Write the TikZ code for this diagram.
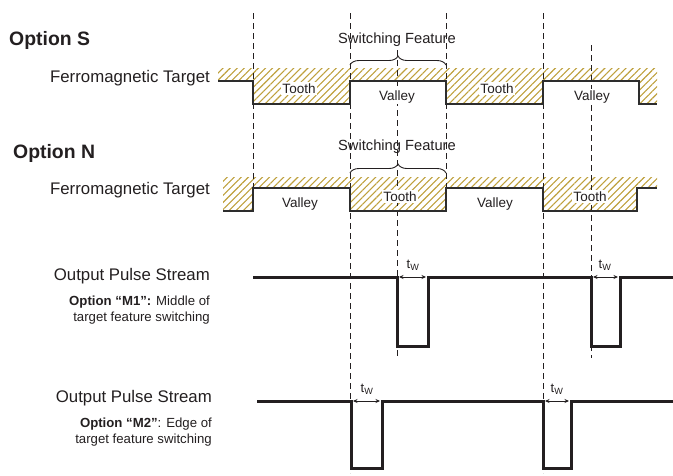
\documentclass[tikz,border=0pt]{standalone}
\usepackage{fontspec}
\setmainfont{Liberation Sans}
\usetikzlibrary{patterns.meta,decorations.pathreplacing,arrows.meta}
\definecolor{txt}{RGB}{35,31,32}
\definecolor{hatchc}{RGB}{190,160,60}
\definecolor{wavec}{RGB}{45,45,45}
\begin{document}
\begin{tikzpicture}[x=1pt,y=-1pt,
  every node/.style={text=txt,inner sep=0pt},
  hatchfill/.style={pattern={Lines[angle=45,distance=5pt,line width=1.1pt]},pattern color=hatchc},
  profile/.style={draw=wavec,line width=1.8pt,line join=miter},
  pulse/.style={draw=txt,line width=3pt,line join=miter},
  guide/.style={draw=txt,line width=0.9pt,dash pattern=on 6pt off 4pt},
  bigbold/.style={font=\fontsize{19.4}{22}\selectfont\bfseries},
  rowlabel/.style={font=\fontsize{16.8}{20}\selectfont},
  featlabel/.style={font=\fontsize{13.5}{16}\selectfont,fill=white,inner sep=1.5pt},
  swlabel/.style={font=\fontsize{14.7}{17}\selectfont},
  note/.style={font=\fontsize{13.2}{15.5}\selectfont},
  twlabel/.style={font=\fontsize{13}{15}\selectfont},
  twarrow/.style={draw=txt,line width=0.8pt,{Stealth[length=4.5pt,width=4pt]}-{Stealth[length=4.5pt,width=4pt]}},
  brace/.style={draw=txt,line width=0.9pt,decorate,decoration={brace,amplitude=9pt}}]
\useasboundingbox (0,0) rectangle (673,475);

% ---------- hatched targets ----------
\fill[hatchfill] (218,68) -- (657,68) -- (657,104) -- (639,104) -- (639,81) -- (543,81) -- (543,104)
  -- (446,104) -- (446,81) -- (350,81) -- (350,104) -- (253,104) -- (253,81) -- (218,81) -- cycle;
\fill[hatchfill] (223,177) -- (657,177) -- (657,188) -- (637,188) -- (637,211) -- (543,211) -- (543,188)
  -- (446,188) -- (446,211) -- (350,211) -- (350,188) -- (253,188) -- (253,211) -- (223,211) -- cycle;

% ---------- dashed guides ----------
\coordinate (g1t) at (253,13);  \coordinate (g1b) at (253,211);
\coordinate (g2t) at (350,13);  \coordinate (g2b) at (350,473);
\coordinate (g3t) at (446,13);  \coordinate (g3b) at (446,211);
\coordinate (g4t) at (543,13);  \coordinate (g4b) at (543,473);
\coordinate (g5t) at (397,50);  \coordinate (g5b) at (397,358);
\coordinate (g6t) at (591,45);  \coordinate (g6b) at (591,358);
\draw[guide] (g1t) -- (g1b);
\draw[guide] (g2t) -- (g2b);
\draw[guide] (g3t) -- (g3b);
\draw[guide] (g4t) -- (g4b);
\draw[guide] (g5t) -- (g5b);
\draw[guide] (g6t) -- (g6b);

% ---------- target profiles ----------
\draw[profile] (218,81) -- (253,81) -- (253,104) -- (350,104) -- (350,81) -- (446,81) -- (446,104)
  -- (543,104) -- (543,81) -- (639,81) -- (639,104) -- (657,104);
\draw[profile] (223,211) -- (253,211) -- (253,188) -- (350,188) -- (350,211) -- (446,211) -- (446,188)
  -- (543,188) -- (543,211) -- (637,211) -- (637,188) -- (657,188);

% ---------- output pulses ----------
\coordinate (p1a) at (397,277); \coordinate (p1b) at (428,277);
\coordinate (p1c) at (591,277); \coordinate (p1d) at (620,277);
\draw[pulse] (253,277) -- (p1a) -- (397,346) -- (428,346) -- (p1b) -- (p1c) -- (591,346) -- (620,346) -- (p1d) -- (673,277);
\coordinate (p2a) at (351,401); \coordinate (p2b) at (382,401);
\coordinate (p2c) at (543,401); \coordinate (p2d) at (571,401);
\draw[pulse] (257,401) -- (p2a) -- (351,468) -- (382,468) -- (p2b) -- (p2c) -- (543,468) -- (571,468) -- (p2d) -- (673,401);

\draw[twarrow] ([xshift=2pt]p1a) -- ([xshift=-2pt]p1b);
\draw[twarrow] ([xshift=2pt]p1c) -- ([xshift=-2pt]p1d);
\draw[twarrow] ([xshift=2pt]p2a) -- ([xshift=-2pt]p2b);
\draw[twarrow] ([xshift=2pt]p2c) -- ([xshift=-2pt]p2d);
\node[twlabel,anchor=base] (tw1) at (413,268) {t\textsubscript{W}};
\node[twlabel,anchor=base] (tw2) at (605,268) {t\textsubscript{W}};
\node[twlabel,anchor=base] (tw3) at (367,392) {t\textsubscript{W}};
\node[twlabel,anchor=base] (tw4) at (557,392) {t\textsubscript{W}};

% ---------- braces ----------
\coordinate (bsl) at (350,65); \coordinate (bsr) at (446,65);
\coordinate (bnl) at (350,173); \coordinate (bnr) at (446,173);
\draw[brace] (bsl) -- (bsr);
\draw[brace] (bnl) -- (bnr);
\node[swlabel,anchor=base] (swS) at (397,43) {Switching Feature};
\node[swlabel,anchor=base] (swN) at (397,150) {Switching Feature};

% ---------- feature labels ----------
\node[featlabel,anchor=base] (s1) at (299,93) {Tooth};
\node[featlabel,anchor=base] (s2) at (397,100) {Valley};
\node[featlabel,anchor=base] (s3) at (497,93) {Tooth};
\node[featlabel,anchor=base] (s4) at (592,100) {Valley};
\node[featlabel,anchor=base] (n1) at (300,207) {Valley};
\node[featlabel,anchor=base] (n2) at (400,201) {Tooth};
\node[featlabel,anchor=base] (n3) at (495,207) {Valley};
\node[featlabel,anchor=base] (n4) at (590,201) {Tooth};

% ---------- left labels ----------
\node[bigbold,anchor=base west] (optS) at (9,45) {Option S};
\node[rowlabel,anchor=base east] (ftS) at (210,82) {Ferromagnetic Target};
\node[bigbold,anchor=base west] (optN) at (13,158) {Option N};
\node[rowlabel,anchor=base east] (ftN) at (210,194) {Ferromagnetic Target};
\node[rowlabel,anchor=base east] (ops1) at (210,280) {Output Pulse Stream};
\node[note,anchor=base east] (m1a) at (210,305) {\textbf{Option “M1”:} Middle of};
\node[note,anchor=base east] (m1b) at (210,321) {target feature switching};
\node[rowlabel,anchor=base east] (ops2) at (212,402) {Output Pulse Stream};
\node[note,anchor=base east] (m2a) at (212,427) {\textbf{Option “M2”}: Edge of};
\node[note,anchor=base east] (m2b) at (212,443) {target feature switching};
\end{tikzpicture}
\end{document}
